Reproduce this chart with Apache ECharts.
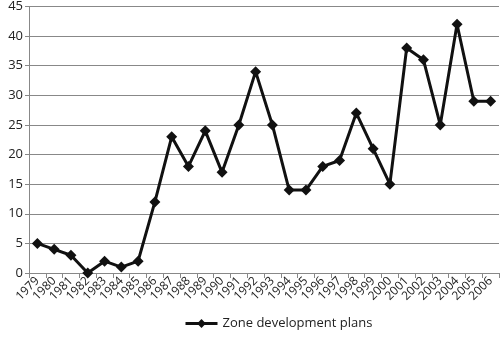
<!DOCTYPE html>
<html><head><meta charset="utf-8">
<script src="https://cdn.jsdelivr.net/npm/echarts@6/dist/echarts.min.js"></script>
<style>html,body{margin:0;padding:0;background:#fff}#c{width:500px;height:339px}</style>
</head><body><div id="c"></div>
<script>
const years = ['1979','1980','1981','1982','1983','1984','1985','1986','1987','1988','1989','1990','1991','1992','1993','1994','1995','1996','1997','1998','1999','2000','2001','2002','2003','2004','2005','2006'];
const plans = [5,4,3,0,2,1,2,12,23,18,24,17,25,34,25,14,14,18,19,27,21,15,38,36,25,42,29,29];
const seriesName = 'Zone development plans';
const chart = echarts.init(document.getElementById('c'));
chart.setOption({
  animation:false,
  textStyle:{fontFamily:'Open Sans, Noto Sans, sans-serif'},
  grid:{left:29,right:1,top:5,bottom:66},
  legend:{bottom:4,left:179,itemWidth:32,itemHeight:11,itemGap:4,
    lineStyle:{width:3,color:'#111'},
    textStyle:{fontSize:13,color:'#222'},data:[seriesName]},
  xAxis:{type:'category',data:years,boundaryGap:true,
    axisLine:{lineStyle:{color:'#888',width:1}},
    axisTick:{show:true,interval:0,length:5,lineStyle:{color:'#888'}},
    axisLabel:{interval:0,rotate:45,fontSize:12,color:'#222',margin:6}},
  yAxis:{type:'value',min:0,max:45,interval:5,
    axisLine:{show:true,lineStyle:{color:'#888'}},
    axisTick:{show:true,length:4,lineStyle:{color:'#888'}},
    splitLine:{lineStyle:{color:'#888',width:1}},
    axisLabel:{fontSize:13,color:'#222',margin:6}},
  series:[{name:seriesName,type:'line',data:plans,symbol:'diamond',symbolSize:11,
    lineStyle:{color:'#111',width:3},itemStyle:{color:'#111'}}]
});
</script></body></html>
